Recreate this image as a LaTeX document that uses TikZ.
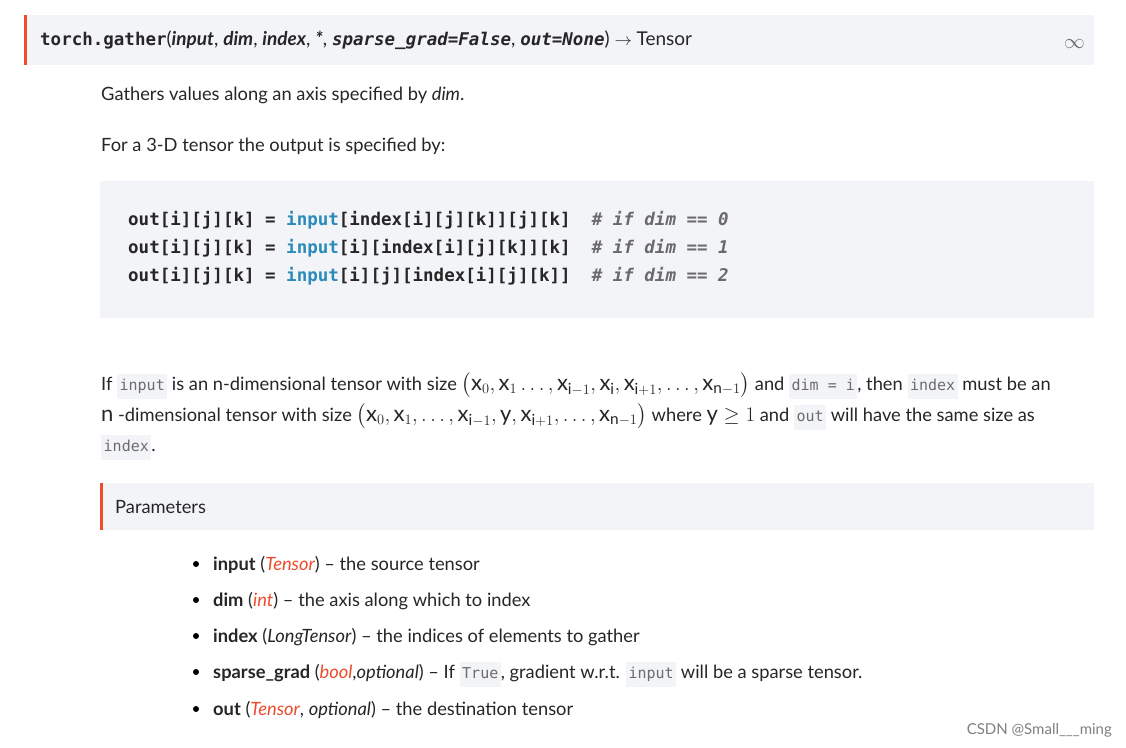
\documentclass[tikz,border=0pt]{standalone}
\usepackage{fontspec}
\usepackage{amsmath}
\setmainfont{Lato}
\setmonofont{DejaVu Sans Mono}
\definecolor{bgbox}{HTML}{F3F4F7}
\definecolor{pyred}{HTML}{EE4C2C}
\definecolor{txt}{HTML}{262626}
\definecolor{codegray}{HTML}{6C6C6D}
\definecolor{kwblue}{HTML}{2A8BB8}
\definecolor{cmt}{HTML}{6A6A6A}
\newcommand{\ic}[1]{{\setlength{\fboxsep}{2.5pt}\colorbox{bgbox}{\strut\color{codegray}\fontsize{15}{16}\ttfamily #1}}}
\newcommand{\bm}[1]{{\fontsize{22}{22}\selectfont$#1$}}
\tikzset{
  txtline/.style={anchor=base west,inner sep=0pt,text=txt,font=\fontsize{18.3}{20}\selectfont},
  codeline/.style={anchor=base west,inner sep=0pt,text=txt,font=\fontsize{17.5}{20}\ttfamily\bfseries},
  bul/.style={circle,fill=black,inner sep=0pt,minimum size=6pt}
}
\begin{document}
\begin{tikzpicture}[x=1pt,y=-1pt]
\useasboundingbox (0,0) rectangle (1126,747);
\fill[white] (0,0) rectangle (1126,747);
% header
\fill[bgbox] (24,15) rectangle (1094,65);
\fill[pyred] (24,15) rectangle (27,65);
\node[txtline,font=\fontsize{19}{20}\selectfont] (hdr) at (40,45) {{\fontsize{17.5}{20}\ttfamily\bfseries torch.gather}(\textit{\textbf{input}}, \textit{\textbf{dim}}, \textit{\textbf{index}}, \textit{\textbf{*}}, {\fontsize{17.5}{20}\ttfamily\bfseries\itshape sparse\_grad=False}, {\fontsize{17.5}{20}\ttfamily\bfseries\itshape out=None}) $\rightarrow$ Tensor};
\node[txtline,text=codegray,font=\fontsize{22}{22}\selectfont] (lnk) at (1064,48) {\(\infty\)};
% intro
\node[txtline] (p1) at (101,100) {Gathers values along an axis specified by \textit{dim}.};
\node[txtline] (p2) at (101,151) {For a 3-D tensor the output is specified by:};
% code
\fill[bgbox] (100,181) rectangle (1094,318);
\node[codeline] (c1) at (128,225) {out[i][j][k] = \textcolor{kwblue}{input}[index[i][j][k]][j][k]\ \ \textcolor{cmt}{\itshape\# if dim == 0}};
\node[codeline] (c2) at (128,253) {out[i][j][k] = \textcolor{kwblue}{input}[i][index[i][j][k]][k]\ \ \textcolor{cmt}{\itshape\# if dim == 1}};
\node[codeline] (c3) at (128,281) {out[i][j][k] = \textcolor{kwblue}{input}[i][j][index[i][j][k]]\ \ \textcolor{cmt}{\itshape\# if dim == 2}};
% paragraph
\node[txtline] (q1) at (101,390) {If \ic{input} is an n-dimensional tensor with size \bm{\big(\mathrm{x}_0, \mathrm{x}_1\ldots, \mathrm{x}_{\mathrm{i}-1}, \mathrm{x}_\mathrm{i}, \mathrm{x}_{\mathrm{i}+1}, \ldots, \mathrm{x}_{\mathrm{n}-1}\big)} and \ic{dim = i}, then \ic{index} must be an};
\node[txtline] (q2) at (101,421) {\bm{\mathrm{n}} -dimensional tensor with size \bm{\big(\mathrm{x}_0, \mathrm{x}_1, \ldots, \mathrm{x}_{\mathrm{i}-1}, \mathrm{y}, \mathrm{x}_{\mathrm{i}+1}, \ldots, \mathrm{x}_{\mathrm{n}-1}\big)} where \bm{\mathrm{y} \geq 1} and \ic{out} will have the same size as};
\node[txtline] (q3) at (101,451) {\ic{index}.};
% parameters
\fill[bgbox] (100,483) rectangle (1094,530);
\fill[pyred] (100,483) rectangle (103,530);
\node[txtline] (par) at (115,513) {Parameters};
\foreach \yy/\nm in {564/b1,600/b2,636/b3,672/b4,709/b5}{\node[bul] (\nm) at (196,\yy) {};}
\node[txtline] (t1) at (213,570) {\textbf{input} (\textcolor{pyred}{\itshape Tensor}) – the source tensor};
\node[txtline] (t2) at (213,606) {\textbf{dim} (\textcolor{pyred}{\itshape int}) – the axis along which to index};
\node[txtline] (t3) at (213,642) {\textbf{index} (\textit{LongTensor}) – the indices of elements to gather};
\node[txtline] (t4) at (213,678) {\textbf{sparse\_grad} (\textcolor{pyred}{\itshape bool},\textit{optional}) – If \ic{True}, gradient w.r.t. \ic{input} will be a sparse tensor.};
\node[txtline] (t5) at (213,715) {\textbf{out} (\textcolor{pyred}{\itshape Tensor}, \textit{optional}) – the destination tensor};
\node[anchor=base east,inner sep=0pt,text=gray,font=\fontsize{15}{18}\selectfont] (wm) at (1112,734) {CSDN @Small\_\_\_ming};
\end{tikzpicture}
\end{document}
